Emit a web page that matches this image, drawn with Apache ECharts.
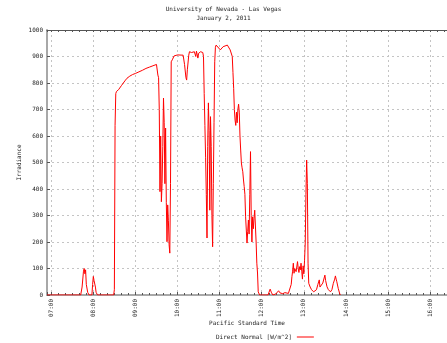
<!DOCTYPE html>
<html><head><meta charset="utf-8">
<script src="https://cdn.jsdelivr.net/npm/echarts@6/dist/echarts.min.js"></script>
<style>html,body{margin:0;padding:0;background:#fff}#c{width:447px;height:343px}</style>
</head><body><div id="c"></div>
<script>
const titleLines = ["University of Nevada - Las Vegas", "January 2, 2011"];
const xName = "Pacific Standard Time";
const yName = "Irradiance";
const seriesName = "Direct Normal [W/m^2]";
const yTicks = [0,100,200,300,400,500,600,700,800,900,1000];
const xRange = ["06:54", "16:24"];

const times = [
"06:54","07:00","07:30","07:42","07:44","07:46","07:47","07:48","07:49","07:50","07:52","07:54",
"07:58","07:59","08:00","08:01","08:02","08:03","08:04","08:06","08:20","08:29","08:30","08:31","08:32","08:33",
"08:36","08:40","08:45","08:48","08:52","08:56","09:00","09:05","09:10","09:15","09:20","09:25","09:30",
"09:31","09:32","09:33","09:34","09:35","09:36","09:37","09:38","09:39","09:40","09:41","09:42","09:43","09:44",
"09:45","09:46","09:47","09:48","09:49","09:50","09:51","09:53","09:55","10:00","10:08","10:10","10:12","10:13",
"10:14","10:16","10:17","10:20","10:24","10:26","10:27","10:29","10:30","10:33","10:35","10:36",
"10:37","10:38","10:39","10:40","10:41","10:42","10:43","10:44","10:45","10:46","10:47","10:48","10:49","10:50",
"10:51","10:52","10:53","10:54","10:55","11:01","11:05","11:11","11:15","11:17",
"11:18","11:19","11:20","11:21","11:22","11:23","11:24","11:25","11:26","11:27","11:28","11:29",
"11:30","11:31","11:32","11:33","11:34","11:35","11:36","11:37","11:38","11:39","11:40","11:41","11:42","11:43",
"11:44","11:45","11:46","11:47","11:48","11:49","11:50","11:51","11:52","11:53","11:54","11:55","11:56","11:57",
"12:00","12:09","12:10","12:12","12:14","12:16","12:20","12:22","12:24","12:26","12:28","12:30","12:33","12:35",
"12:38","12:40","12:42","12:43","12:44","12:45","12:46","12:47","12:48","12:49","12:50","12:51","12:52","12:53",
"12:54","12:55","12:56","12:57","12:58","12:59","13:00","13:01","13:02","13:03","13:04","13:05","13:06","13:07",
"13:09","13:11","13:14","13:16","13:18","13:20","13:22","13:23","13:25","13:27","13:28","13:30","13:31","13:33",
"13:35","13:38","13:40","13:42","13:44","13:45","13:46","13:47","13:49","13:51","13:52"
];
const irradiance = [
0,0,0,0,30,90,100,80,95,40,10,0,
0,40,70,55,60,30,10,0,0,0,20,640,760,768,
775,790,808,818,826,832,836,842,848,855,860,865,870,
870,830,820,700,390,600,352,420,560,743,650,420,630,350,
201,340,280,190,158,420,880,890,902,906,905,870,820,811,
850,905,918,915,918,900,920,894,912,918,920,915,
900,760,640,520,380,215,560,725,620,320,673,560,300,182,
420,650,880,935,943,925,937,943,925,931,
900,840,780,700,660,640,690,650,700,720,690,600,
547,498,480,465,434,409,380,295,245,196,240,283,230,380,
541,300,200,295,250,290,320,314,200,120,83,12,5,0,
0,0,8,22,8,0,4,10,16,8,3,5,9,4,
6,12,40,69,90,120,82,100,107,88,95,126,100,85,
107,95,120,90,60,110,80,130,196,380,509,420,120,44,
30,20,12,8,20,40,57,30,35,45,50,75,55,31,
20,12,20,44,60,72,60,50,25,6,0
];

function toHours(s){ const p = s.split(':'); return +p[0] + (+p[1])/60; }
const data = times.map((t,i)=>[toHours(t), irradiance[i]]);
const xMin = toHours(xRange[0]), xMax = toHours(xRange[1]);
const FONT = 'DejaVu Sans Mono';
const TXT = '#222';
const GRID = {color:'#c4c4c4', type:[2,3], width:1};

const chart = echarts.init(document.getElementById('c'), null, {renderer:'canvas'});
chart.setOption({
  animation:false,
  backgroundColor:'#fff',
  title:{
    text: titleLines.join('\n'),
    left: 'center', top: 0,
    textStyle:{fontFamily:FONT, fontSize:6, fontWeight:'normal', color:TXT, lineHeight:9}
  },
  legend:{
    data:[seriesName], left:216, top:334, align:'right',
    icon:'rect', itemWidth:17, itemHeight:1, itemGap:4,
    textStyle:{fontFamily:FONT, fontSize:6, color:TXT, padding:[0,0,0,0]},
    padding:0
  },
  grid:{left:47, right:0, top:30, bottom:48, containLabel:false},
  xAxis:[
    {
      type:'value', min:xMin, max:xMax, minInterval:1, maxInterval:1, splitNumber:9,
      name:xName, nameLocation:'middle', nameGap:25, nameMoveOverlap:false,
      nameTextStyle:{fontFamily:FONT, fontSize:6, color:TXT},
      axisLine:{show:true, onZero:false, lineStyle:{color:'#a8a8a8', width:2}},
      axisTick:{show:true, inside:true, length:3, lineStyle:{color:'#555', width:1}},
      axisLabel:{
        rotate:90, margin:4, fontFamily:FONT, fontSize:6, color:TXT,
        showMinLabel:true, showMaxLabel:true,
        formatter:function(v){
          const r = Math.round(v);
          if (Math.abs(v-r) > 1e-6) return '';
          return (r<10?'0':'')+r+':00';
        }
      },
      splitLine:{show:true, lineStyle:GRID}
    },
    {
      type:'value', min:xMin*6, max:xMax*6, minInterval:1, maxInterval:1, splitNumber:57,
      position:'bottom',
      axisLine:{show:false}, axisLabel:{show:false}, splitLine:{show:false},
      axisTick:{show:true, inside:true, length:2, lineStyle:{color:'#555', width:1}}
    },
    {
      type:'value', min:xMin*6, max:xMax*6, minInterval:1, maxInterval:1, splitNumber:57,
      position:'top',
      axisLine:{show:true, onZero:false, lineStyle:{color:'#555', width:1}},
      axisLabel:{show:false}, splitLine:{show:false},
      axisTick:{show:true, inside:true, length:2, lineStyle:{color:'#555', width:1}}
    }
  ],
  yAxis:{
    type:'value', min:yTicks[0], max:yTicks[yTicks.length-1], interval:yTicks[1]-yTicks[0],
    name:yName, nameLocation:'middle', nameGap:25, nameMoveOverlap:false,
    nameTextStyle:{fontFamily:FONT, fontSize:6, color:TXT},
    axisLine:{show:true, lineStyle:{color:'#a8a8a8', width:2}},
    axisTick:{show:true, inside:true, length:3, lineStyle:{color:'#555', width:1}},
    axisLabel:{fontFamily:FONT, fontSize:6, color:TXT, margin:4, formatter:function(v){return String(v);}},
    splitLine:{show:true, lineStyle:GRID}
  },
  series:[{
    name:seriesName, type:'line', xAxisIndex:0, data:data,
    showSymbol:false, symbol:'none',
    lineStyle:{color:'#ff0000', width:1},
    itemStyle:{color:'#ff0000'}
  }]
});
</script></body></html>
